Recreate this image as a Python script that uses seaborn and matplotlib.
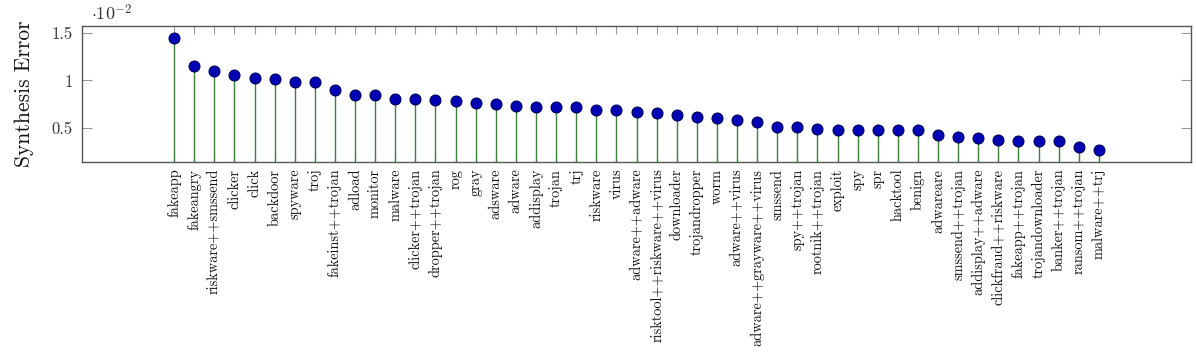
import matplotlib
matplotlib.use("Agg")
import matplotlib.pyplot as plt
import seaborn as sns
import pandas as pd
import numpy as np

categories = [
    "fakeapp", "fakeangry", "riskware++smssend", "clicker", "click", "backdoor",
    "spyware", "troj", "fakeinst++trojan", "adload", "monitor", "malware",
    "clicker++trojan", "dropper++trojan", "rog", "gray", "adsware", "adware",
    "addisplay", "trojan", "trj", "riskware", "virus", "adware++adware",
    "risktool++riskware++virus", "downloader", "trojandropper", "worm",
    "adware++virus", "adware++grayware++virus", "smssend", "spy++trojan",
    "rootnik++trojan", "exploit", "spy", "spr", "hacktool", "benign",
    "adwareare", "smssend++trojan", "addisplay++adware", "clickfraud++riskware",
    "fakeapp++trojan", "trojandownloader", "banker++trojan", "ransom++trojan",
    "malware++trj",
]
# Synthesis error, in units of 1e-2
errors = [
    1.446, 1.153, 1.100, 1.055, 1.024, 1.017,
    0.985, 0.979, 0.895, 0.849, 0.846, 0.804,
    0.804, 0.791, 0.783, 0.759, 0.756, 0.734,
    0.721, 0.717, 0.717, 0.693, 0.686, 0.665,
    0.662, 0.640, 0.616, 0.609,
    0.588, 0.561, 0.512, 0.510,
    0.494, 0.477, 0.477, 0.477, 0.477, 0.477,
    0.425, 0.404, 0.397, 0.376,
    0.368, 0.368, 0.365, 0.299,
    0.268,
]
ytick_values = [0.5, 1.0, 1.5]
ytick_labels = ["0.5", "1", "1.5"]

df = pd.DataFrame({"category": categories, "error": errors})
df["pos"] = np.arange(len(df))

sns.set_style("white")
plt.rcParams["font.family"] = ["cmr10", "DejaVu Serif"]
plt.rcParams["mathtext.fontset"] = "cm"
plt.rcParams["axes.unicode_minus"] = False

fig = plt.figure(figsize=(11.96, 3.59), dpi=100)
ax = fig.add_axes([0.0686, 0.5496, 0.9272, 0.3788])

ymin, ymax = 0.150, 1.572
ax.vlines(df["pos"], ymin - 1, df["error"], color="#3f7f3f", linewidth=1.0, zorder=2)
sns.scatterplot(data=df, x="pos", y="error", ax=ax, s=62, color="#0000b4",
                edgecolor="#00005a", linewidth=0.8, zorder=3, legend=False)

ax.set_xlim(-4.58, len(df) - 1 + 4.58)
ax.set_ylim(ymin, ymax)
ax.set_xticks(df["pos"])
ax.set_xticklabels(df["category"], rotation=90, fontsize=10.3, color="#111111")
ax.set_yticks(ytick_values)
ax.set_yticklabels(ytick_labels, fontsize=12, color="#333333")
ax.set_xlabel("")
ax.set_ylabel("Synthesis Error", fontsize=15.5, color="#111111", labelpad=12)

ax.tick_params(axis="x", direction="in", top=True, bottom=True, length=6,
               width=0.8, color="#999999", pad=5)
ax.tick_params(axis="y", direction="in", left=True, right=True, length=7,
               width=0.8, color="#999999", pad=7)
for sp in ax.spines.values():
    sp.set_color("#555555")
    sp.set_linewidth(1.0)

ax.text(0.008, 1.02, r"$\cdot10^{-2}$", transform=ax.transAxes, fontsize=13,
        color="#333333", ha="left", va="bottom")

fig.savefig("out.png", dpi=100)
